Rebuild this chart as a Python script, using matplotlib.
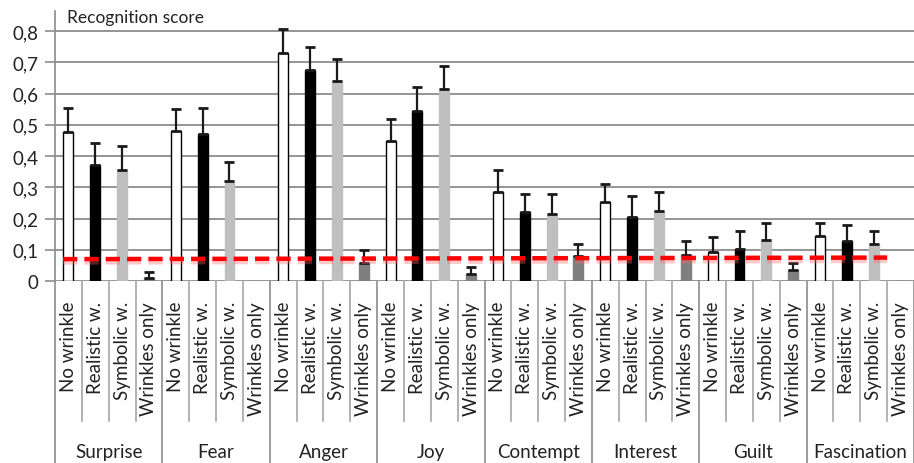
import numpy as np
import matplotlib
matplotlib.use("Agg")
import matplotlib.pyplot as plt
import matplotlib.transforms as mtransforms
import matplotlib.patheffects as pe

plt.rcParams['font.family'] = ['Lato', 'DejaVu Sans']

emotions = ['Surprise', 'Fear', 'Anger', 'Joy', 'Contempt', 'Interest', 'Guilt', 'Fascination']
conditions = ['No wrinkle', 'Realistic w.', 'Symbolic w.', 'Wrinkles only']

no_wrinkle = [0.478, 0.480, 0.730, 0.449, 0.286, 0.252, 0.094, 0.143]
no_wrinkle_err = [0.077, 0.069, 0.076, 0.069, 0.068, 0.059, 0.048, 0.044]
realistic = [0.371, 0.471, 0.675, 0.544, 0.222, 0.204, 0.103, 0.128]
realistic_err = [0.072, 0.084, 0.074, 0.078, 0.056, 0.068, 0.057, 0.050]
symbolic = [0.356, 0.320, 0.640, 0.614, 0.213, 0.223, 0.131, 0.119]
symbolic_err = [0.077, 0.061, 0.069, 0.074, 0.065, 0.062, 0.056, 0.041]
wrinkles_only = [0.009, 0.0, 0.058, 0.021, 0.081, 0.083, 0.034, 0.0]
wrinkles_only_err = [0.021, 0.0, 0.041, 0.024, 0.039, 0.044, 0.025, 0.0]

chance_level = [0.070, 0.075]
yticks = [0, 0.1, 0.2, 0.3, 0.4, 0.5, 0.6, 0.7, 0.8]
ytick_labels = ['0', '0,1', '0,2', '0,3', '0,4', '0,5', '0,6', '0,7', '0,8']

series = [no_wrinkle, realistic, symbolic, wrinkles_only]
series_err = [no_wrinkle_err, realistic_err, symbolic_err, wrinkles_only_err]
face = ['white', 'black', '#BFBFBF', '#7F7F7F']
edge = ['black', 'black', '#BFBFBF', '#7F7F7F']

W, H = 914, 464
fig = plt.figure(figsize=(W / 100, H / 100), dpi=100)
ax = fig.add_axes([55 / W, (H - 282) / H, (W - 55) / W, (282 - 12) / H])

n_groups = len(emotions)
n_cond = len(conditions)
ncat = n_groups * n_cond
bw = 0.37

for ci in range(n_cond):
    xs = np.arange(n_groups) * n_cond + ci
    vals = np.array(series[ci])
    errs = np.array(series_err[ci])
    ax.bar(xs, vals, width=bw, color=face[ci], edgecolor=edge[ci], linewidth=1.0, zorder=3)
    mask = vals > 0
    ax.errorbar(xs[mask], vals[mask], yerr=[np.zeros(mask.sum()), errs[mask]], fmt='none',
                ecolor='#1a1a1a', elinewidth=1.6, capsize=3.3, capthick=2.0, zorder=4)

# chance level line
x_line = [-0.2, ncat - 1.5]
ax.plot(x_line, chance_level, color='#FF0000', linewidth=3.2, dashes=(3.2, 1.6), zorder=5,
        solid_capstyle='butt',
        path_effects=[pe.SimpleLineShadow(offset=(0, -1.5), shadow_color='#FF6666', alpha=0.35, linewidth=5),
                      pe.Normal()])

ax.set_xlim(-0.5, ncat - 0.5)
ax.set_ylim(0, 0.8 + 20 / 312.5)
ax.set_yticks(yticks)
ax.set_yticklabels(ytick_labels, fontsize=13.5)
ax.tick_params(axis='y', length=7, width=1.2, color='#8C8C8C', pad=5, labelcolor='#222222')
ax.set_xticks([])
ax.yaxis.grid(True, color='#8C8C8C', linewidth=1.3, zorder=0)
ax.set_axisbelow(True)
for s in ['top', 'right', 'bottom']:
    ax.spines[s].set_visible(False)
ax.spines['left'].set_color('#8C8C8C')
ax.spines['left'].set_linewidth(1.2)

ax.text(12 / 859, 1.0 - 6 / 270, 'Recognition score', transform=ax.transAxes, fontsize=12.5,
        color='#222222', va='center', ha='left')

trans = mtransforms.blended_transform_factory(ax.transData, ax.transAxes)
ax_h = 270.0
# separators below axis
for k in range(ncat + 1):
    xk = k - 0.5
    if k % n_cond == 0:
        ax.plot([xk, xk], [0, -182 / ax_h], transform=trans, color='#8C8C8C', linewidth=1.2, clip_on=False)
    else:
        ax.plot([xk, xk], [0, -140 / ax_h], transform=trans, color='#A6A6A6', linewidth=1.2, clip_on=False)

for g in range(n_groups):
    for ci in range(n_cond):
        xk = g * n_cond + ci
        ax.text(xk, -20 / ax_h, conditions[ci], transform=trans, rotation=90, ha='center', va='top',
                fontsize=13.5, color='#222222')
    ax.text(g * n_cond + (n_cond - 1) / 2, -171 / ax_h, emotions[g], transform=trans, ha='center',
            va='center', fontsize=13.5, color='#222222')

fig.savefig('out.png', dpi=100)
